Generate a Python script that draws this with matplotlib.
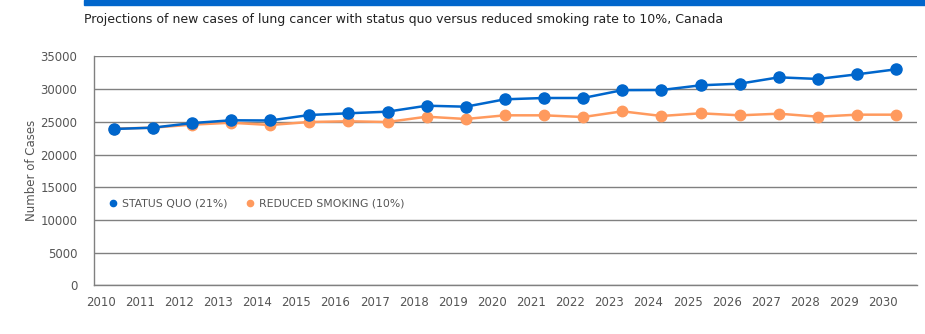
import matplotlib
matplotlib.use("Agg")
import matplotlib.pyplot as plt
from matplotlib.patches import Rectangle
import numpy as np

years = list(range(2010, 2031))
status_quo = [23900, 24100, 24800, 25230, 25200, 26040, 26300, 26550, 27460, 27310,
              28440, 28640, 28640, 29840, 29860, 30580, 30830, 31800, 31550, 32260, 33030]
reduced = [23950, 24100, 24560, 24860, 24510, 24970, 25080, 24970, 25780, 25430,
           25990, 25990, 25730, 26600, 25890, 26300, 25990, 26240, 25780, 26090, 26090]
title = "Projections of new cases of lung cancer with status quo versus reduced smoking rate to 10%, Canada"
ylabel = "Number of Cases"
labels = ["STATUS QUO (21%)", "REDUCED SMOKING (10%)"]

blue = "#0066CC"
orange = "#FF9A5E"
txt = "#555555"
font = ["DejaVu Sans Condensed", "DejaVu Sans"]

fig = plt.figure(figsize=(9.25, 3.34), dpi=100)
fig.patches.append(Rectangle((84/925, 1-5/334), 1, 5/334, transform=fig.transFigure,
                             color=blue, zorder=0))
fig.text(84/925, 1-19/334, title, fontsize=9, color="#222222", family=font, va="center", ha="left")

ax = fig.add_axes([94/925, 1-285.3/334, (917-94)/925, (285.3-56.4)/334])
x = np.array(years) + 0.33
ax.plot(x, reduced, color=orange, lw=1.8, marker="o", ms=7.5, mec=orange, mfc=orange, zorder=3, label=labels[1])
ax.plot(x, status_quo, color=blue, lw=1.8, marker="o", ms=8, mec=blue, mfc=blue, zorder=4, label=labels[0])

ax.set_xlim(2009.83, 2030.86)
ax.set_ylim(0, 35000)
ax.set_yticks(range(0, 35001, 5000))
ax.set_xticks(years)
ax.set_xticklabels([str(y) for y in years])
ax.grid(axis="y", color="#808080", lw=1)
ax.set_axisbelow(True)
for s in ["top", "right"]:
    ax.spines[s].set_visible(False)
for s in ["left", "bottom"]:
    ax.spines[s].set_color("#808080")
    ax.spines[s].set_linewidth(1)
ax.tick_params(length=0, colors=txt, labelsize=8.5)
ax.tick_params(axis="y", pad=12)
ax.tick_params(axis="x", pad=8)
for t in ax.get_xticklabels() + ax.get_yticklabels():
    t.set_family(font)
ax.set_ylabel(ylabel, color=txt, fontsize=8.5, family=font, labelpad=1.5)

h, l = ax.get_legend_handles_labels()
leg = ax.legend(h[::-1], l[::-1], loc="center left", bbox_to_anchor=(0.0194, 0.358), ncol=2, frameon=False,
                borderaxespad=0, borderpad=0,
                handlelength=0.5, handletextpad=0.6, columnspacing=1.8,
                prop={"family": font, "size": 7.8}, labelcolor=txt)
for lh in leg.legend_handles:
    lh.set_linestyle("")
    lh.set_markersize(4.5)

fig.savefig("out.png", dpi=100)
